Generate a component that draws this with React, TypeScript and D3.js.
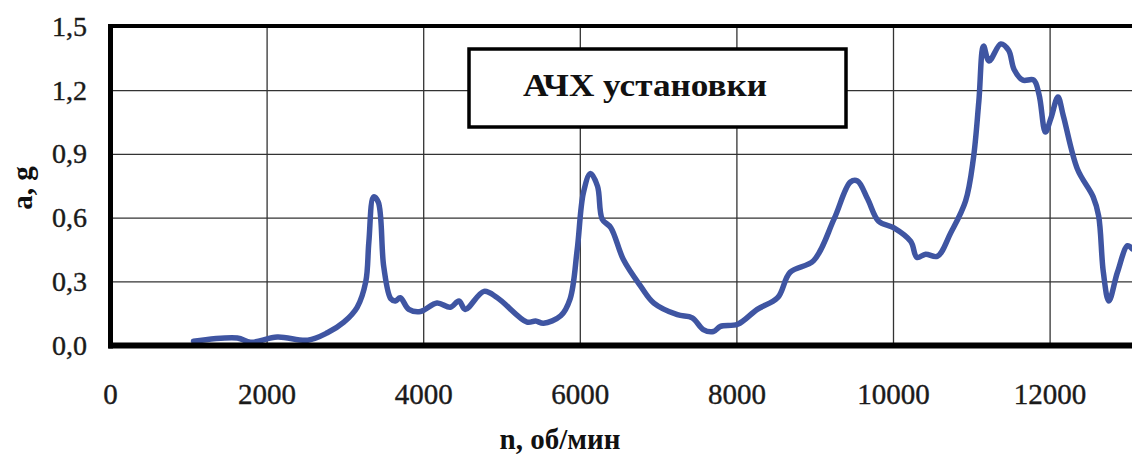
import React from "react";
import * as d3 from "d3";

const rpm: number[] = [
  1060, 1620, 1790, 2130, 2520, 2770, 2980, 3150, 3260, 3300, 3360, 3420, 3490, 3580, 3640, 3700, 3810, 3960,
  4170, 4340, 4450, 4530, 4770, 4940, 5320, 5430, 5530, 5750, 5870, 5960, 6040, 6130, 6220, 6280, 6390, 6550,
  6770, 6940, 7240, 7430, 7570, 7700, 7790, 8010, 8260, 8520, 8680, 8980, 9240, 9450, 9540, 9670, 9810, 10000,
  10220, 10300, 10410, 10560, 10730, 10920, 11020, 11090, 11150, 11220, 11370, 11470, 11540, 11650, 11790,
  11860, 11940, 12010, 12100, 12170, 12350, 12550, 12620, 12680, 12750, 12860, 12990, 13050,
];
const accel: number[] = [
  0.02, 0.035, 0.015, 0.04, 0.025, 0.06, 0.11, 0.18, 0.3, 0.49, 0.7, 0.675, 0.37, 0.22, 0.21, 0.225, 0.17, 0.16,
  0.2, 0.18, 0.21, 0.17, 0.255, 0.225, 0.11, 0.115, 0.105, 0.14, 0.22, 0.45, 0.72, 0.81, 0.75, 0.595, 0.555, 0.405,
  0.28, 0.2, 0.145, 0.13, 0.075, 0.066, 0.09, 0.1, 0.17, 0.225, 0.345, 0.4, 0.595, 0.77, 0.775, 0.69, 0.585, 0.555,
  0.49, 0.415, 0.43, 0.42, 0.53, 0.68, 0.88, 1.15, 1.41, 1.34, 1.42, 1.39, 1.3, 1.25, 1.25,
  1.18, 1.005, 1.07, 1.17, 1.08, 0.83, 0.7, 0.61, 0.345, 0.21, 0.345, 0.47, 0.455,
];
const xTicks: number[] = [0, 2000, 4000, 6000, 8000, 10000, 12000];
const yTicks: number[] = [0, 0.3, 0.6, 0.9, 1.2, 1.5];
const title = "АЧХ установки";
const xLabel = "n, об/мин";
const yLabel = "a, g";

export default function App() {
  const W = 1132, H = 456;
  const x0 = 110.5, y0 = 345.5, yTop = 27;
  const x = d3.scaleLinear().domain([0, 2000]).range([x0, x0 + 156.6]);
  const y = d3.scaleLinear().domain([0, 1.5]).range([y0, yTop]);
  const pts: [number, number][] = rpm.map((v, i) => [v, accel[i]]);
  const line = d3
    .line<[number, number]>()
    .x((d) => x(d[0]))
    .y((d) => y(d[1]))
    .curve(d3.curveCatmullRom.alpha(0.5));
  const font = "'Liberation Serif', 'Times New Roman', serif";
  return (
    <svg width={W} height={H} style={{ position: "absolute", left: 0, top: 0, background: "#fff" }}>
      <defs>
        <clipPath id="plot">
          <rect x={x0} y={yTop - 5} width={W - x0} height={y0 - yTop + 5} />
        </clipPath>
      </defs>
      {/* grid */}
      {yTicks.filter((t) => t > 0 && t < 1.5).map((t) => (
        <line key={"h" + t} x1={x0} x2={W} y1={y(t)} y2={y(t)} stroke="#333" strokeWidth={1.3} />
      ))}
      {xTicks.filter((t) => t > 0).map((t) => (
        <line key={"v" + t} x1={x(t)} x2={x(t)} y1={yTop} y2={y0} stroke="#333" strokeWidth={1.3} />
      ))}
      {/* title box */}
      <rect x={469} y={49} width={377} height={78} fill="#fff" stroke="#000" strokeWidth={3.5} />
      <text
        x={523}
        y={96}
        fontFamily={font}
        fontWeight="bold"
        fontSize={32}
        fill="#111"
        textLength={244}
        lengthAdjust="spacingAndGlyphs"
      >
        {title}
      </text>
      {/* curve */}
      <path
        d={line(pts) || ""}
        fill="none"
        stroke="#3F55A2"
        strokeWidth={5.5}
        strokeLinejoin="round"
        strokeLinecap="round"
        clipPath="url(#plot)"
      />
      {/* frame */}
      <line x1={x0} x2={W} y1={yTop - 1} y2={yTop - 1} stroke="#000" strokeWidth={4} />
      <line x1={x0} x2={x0} y1={yTop - 3} y2={y0 + 3} stroke="#000" strokeWidth={5} />
      <line x1={x0 - 2} x2={W} y1={y0} y2={y0} stroke="#000" strokeWidth={6} />
      {/* y ticks */}
      {yTicks.map((t) => (
        <text
          key={"yl" + t}
          x={87}
          y={y(t) + 9}
          textAnchor="end"
          fontFamily={font}
          fontSize={28}
          fill="#1a1a1a"
          stroke="#1a1a1a"
          strokeWidth={0.4}
        >
          {t.toFixed(1).replace(".", ",")}
        </text>
      ))}
      {/* x ticks */}
      {xTicks.map((t) => (
        <text
          key={"xl" + t}
          x={x(t)}
          y={404}
          textAnchor="middle"
          fontFamily={font}
          fontSize={29}
          fill="#1a1a1a"
          stroke="#1a1a1a"
          strokeWidth={0.4}
        >
          {t}
        </text>
      ))}
      <text x={560} y={449} textAnchor="middle" fontFamily={font} fontWeight="bold" fontSize={29} fill="#111">
        {xLabel}
      </text>
      <text
        transform="translate(32,188) rotate(-90)"
        textAnchor="middle"
        fontFamily={font}
        fontWeight="bold"
        fontSize={29}
        fill="#111"
      >
        {yLabel}
      </text>
    </svg>
  );
}
